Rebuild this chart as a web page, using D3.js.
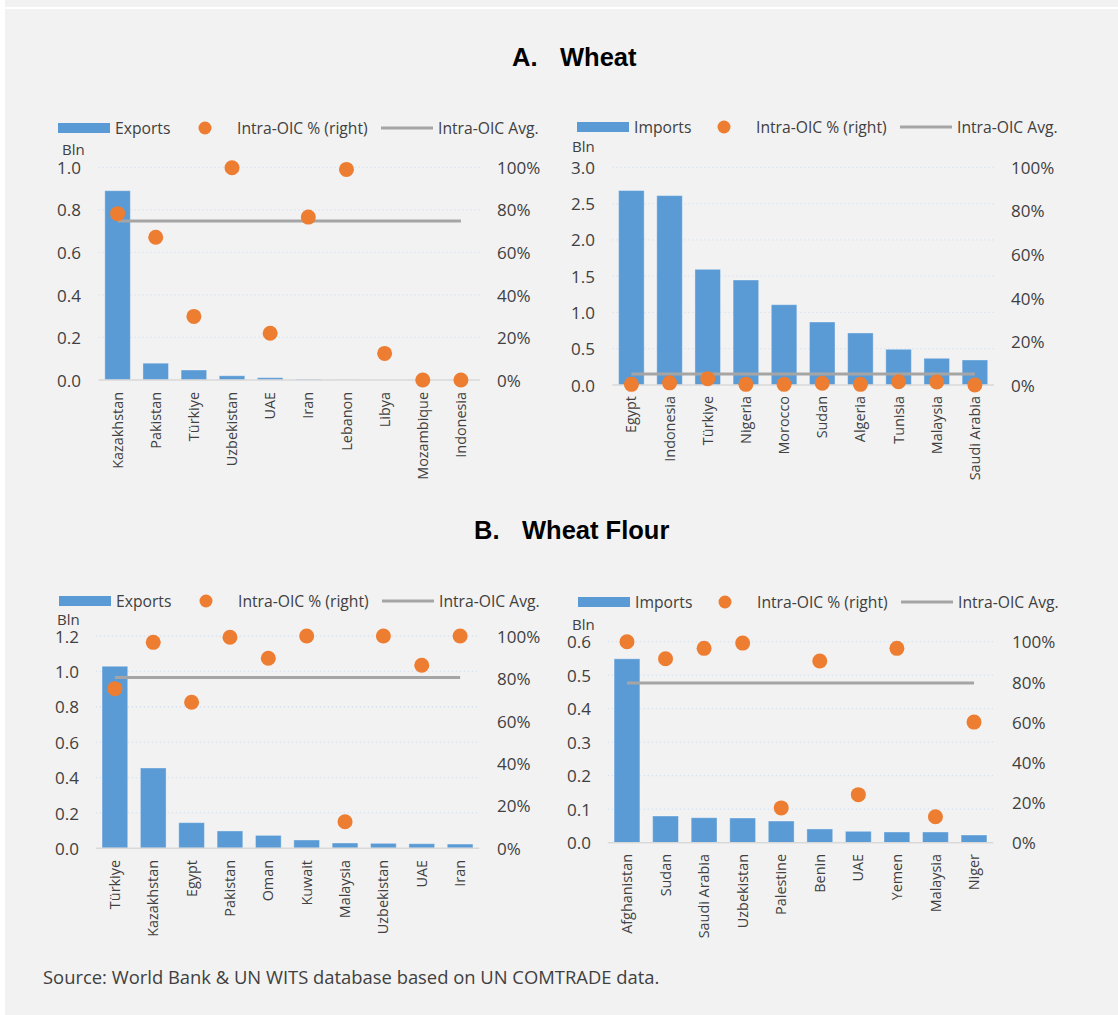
<!DOCTYPE html>
<html>
<head>
<meta charset="utf-8">
<script src="https://cdn.jsdelivr.net/npm/d3@7"></script>
<style>
  body { margin: 0; background: #fff; }
  svg text { font-family: "Open Sans", "Noto Sans", sans-serif; fill: #404040; }
</style>
</head>
<body>
<div id="chart"></div>
<script>
// A. Wheat - exports
var wheatExpCountries = ["Kazakhstan", "Pakistan", "Türkiye", "Uzbekistan", "UAE", "Iran", "Lebanon", "Libya", "Mozambique", "Indonesia"];
var wheatExpValues = [0.89, 0.079, 0.047, 0.02, 0.011, 0.004, 0.001, 0, 0, 0];
var wheatExpShare = [0.782, 0.671, 0.299, 0.998, 0.22, 0.766, 0.99, 0.125, 0, 0];
var wheatExpAvg = 0.748;
var wheatExpTicks = [0, 0.2, 0.4, 0.6, 0.8, 1.0];

// A. Wheat - imports
var wheatImpCountries = ["Egypt", "Indonesia", "Türkiye", "Nigeria", "Morocco", "Sudan", "Algeria", "Tunisia", "Malaysia", "Saudi Arabia"];
var wheatImpValues = [2.68, 2.61, 1.594, 1.447, 1.107, 0.868, 0.717, 0.492, 0.368, 0.345];
var wheatImpShare = [0.003, 0.01, 0.029, 0.003, 0.003, 0.008, 0.003, 0.015, 0.014, 0];
var wheatImpAvg = 0.0505;
var wheatImpTicks = [0, 0.5, 1.0, 1.5, 2.0, 2.5, 3.0];

// B. Wheat Flour - exports
var flourExpCountries = ["Türkiye", "Kazakhstan", "Egypt", "Pakistan", "Oman", "Kuwait", "Malaysia", "Uzbekistan", "UAE", "Iran"];
var flourExpValues = [1.029, 0.454, 0.145, 0.098, 0.073, 0.047, 0.03, 0.028, 0.026, 0.024];
var flourExpShare = [0.752, 0.97, 0.688, 0.994, 0.895, 1.0, 0.125, 1.0, 0.862, 1.0];
var flourExpAvg = 0.805;
var flourExpTicks = [0, 0.2, 0.4, 0.6, 0.8, 1.0, 1.2];

// B. Wheat Flour - imports
var flourImpCountries = ["Afghanistan", "Sudan", "Saudi Arabia", "Uzbekistan", "Palestine", "Benin", "UAE", "Yemen", "Malaysia", "Niger"];
var flourImpValues = [0.549, 0.0797, 0.0746, 0.0737, 0.0647, 0.041, 0.034, 0.032, 0.032, 0.023];
var flourImpShare = [1.0, 0.915, 0.967, 0.993, 0.173, 0.904, 0.239, 0.967, 0.129, 0.60];
var flourImpAvg = 0.795;
var flourImpTicks = [0, 0.1, 0.2, 0.3, 0.4, 0.5, 0.6];

var shareTicks = [0, 0.2, 0.4, 0.6, 0.8, 1.0];

var W = 1118, H = 1015;
var blue = "#5b9bd5", orange = "#ed7d31", grey = "#a5a5a5";

var svg = d3.select("#chart").append("svg")
    .attr("width", W)
    .attr("height", H);

// background panel
svg.append("rect").attr("x", 5).attr("y", 0).attr("width", W - 5).attr("height", 7).attr("fill", "#f2f2f2");
svg.append("rect").attr("x", 5).attr("y", 9).attr("width", W - 5).attr("height", H - 9).attr("fill", "#f2f2f2");

// section titles
function title(letter, name, lx, nx, y) {
    svg.append("text").attr("x", lx).attr("y", y)
        .style("font-family", "'Liberation Sans', Arial, sans-serif")
        .style("font-weight", "bold").style("font-size", "25.5px").style("fill", "#000")
        .text(letter);
    svg.append("text").attr("x", nx).attr("y", y)
        .style("font-family", "'Liberation Sans', Arial, sans-serif")
        .style("font-weight", "bold").style("font-size", "25.5px").style("fill", "#000")
        .text(name);
}
title("A.", "Wheat", 512, 560, 66);
title("B.", "Wheat Flour", 474, 522, 539);

function panel(o) {
    var g = svg.append("g");

    var x = d3.scaleBand()
        .domain(o.countries)
        .range([o.x0, o.x1])
        .paddingInner(0.33)
        .paddingOuter(0.165);

    var y = d3.scaleLinear()
        .domain([0, o.ticks[o.ticks.length - 1]])
        .range([o.yZero, o.yTop]);

    var y2 = d3.scaleLinear()
        .domain([0, 1])
        .range([o.yZero, o.yTop]);

    // dotted gridlines
    g.selectAll(".grid")
        .data(o.ticks.slice(1))
        .enter().append("line")
        .attr("x1", o.x0).attr("x2", o.x1)
        .attr("y1", function (d) { return y(d) }).attr("y2", function (d) { return y(d) })
        .attr("stroke", "#d6e2f0")
        .attr("stroke-width", 1.3)
        .attr("stroke-dasharray", "1.3,2.7");

    // left axis
    var yAxis = d3.axisLeft(y).tickValues(o.ticks).tickFormat(d3.format(".1f")).tickSize(0);
    var ga = g.append("g")
        .attr("transform", "translate(" + o.leftLab + ",0)")
        .call(yAxis);
    ga.select(".domain").remove();
    ga.selectAll("text").attr("x", 0).attr("dy", "0.36em")
        .style("font-size", "17px").style("fill", "#404040");

    // right axis
    var yAxisR = d3.axisRight(y2).tickValues(shareTicks).tickFormat(d3.format(".0%")).tickSize(0);
    var gr = g.append("g")
        .attr("transform", "translate(" + o.rightLab + ",0)")
        .call(yAxisR);
    gr.select(".domain").remove();
    gr.selectAll("text").attr("x", 0).attr("dy", "0.36em")
        .style("font-size", "17px").style("fill", "#404040");

    g.append("text")
        .attr("x", o.blnX).attr("y", o.blnY)
        .style("font-size", "15px")
        .text("Bln");

    // bars
    g.selectAll(".bar")
        .data(o.values)
        .enter().append("rect")
        .attr("x", function (d, i) { return x(o.countries[i]) })
        .attr("width", x.bandwidth())
        .attr("y", function (d) { return y(d) })
        .attr("height", function (d) { return o.yZero - y(d) })
        .attr("fill", blue)
        .attr("stroke", "rgba(255,255,255,0.35)")
        .attr("stroke-width", 1);

    // zero line
    g.append("line")
        .attr("x1", o.x0).attr("x2", o.x1)
        .attr("y1", o.yZero).attr("y2", o.yZero)
        .attr("stroke", "#d9d9d9")
        .attr("stroke-width", 1.5);

    // average line
    var first = o.countries[0], last = o.countries[o.countries.length - 1];
    g.append("line")
        .attr("x1", x(first) + x.bandwidth() / 2)
        .attr("x2", x(last) + x.bandwidth() / 2)
        .attr("y1", y2(o.avg)).attr("y2", y2(o.avg))
        .attr("stroke", grey)
        .attr("stroke-width", 3);

    // share dots
    g.selectAll(".dot")
        .data(o.share)
        .enter().append("circle")
        .attr("cx", function (d, i) { return x(o.countries[i]) + x.bandwidth() / 2 })
        .attr("cy", function (d) { return y2(d) })
        .attr("r", 7.5)
        .attr("fill", orange);

    // category labels
    g.selectAll(".lab")
        .data(o.countries)
        .enter().append("text")
        .attr("transform", function (d) {
            return "translate(" + (x(d) + x.bandwidth() / 2) + "," + o.labTop + ") rotate(-90)";
        })
        .attr("text-anchor", "end")
        .attr("dy", "0.35em")
        .style("font-size", "14.4px")
        .text(function (d) { return d });

    // legend
    var l = g.append("g").attr("transform", "translate(" + o.legX + "," + o.legY + ")");
    l.append("rect").attr("x", 0).attr("y", -5).attr("width", 52).attr("height", 10).attr("fill", blue);
    l.append("text").attr("x", 57).attr("dy", "0.35em").style("font-size", "15.7px").text(o.name);
    l.append("circle").attr("cx", 147).attr("cy", 0).attr("r", 6.5).attr("fill", orange);
    l.append("text").attr("x", 179).attr("dy", "0.35em").style("font-size", "15.7px").text("Intra-OIC % (right)");
    l.append("line").attr("x1", 323).attr("x2", 375).attr("stroke", grey).attr("stroke-width", 3);
    l.append("text").attr("x", 380).attr("dy", "0.35em").style("font-size", "15.7px").text("Intra-OIC Avg.");
}

panel({
    name: "Exports", countries: wheatExpCountries, values: wheatExpValues, share: wheatExpShare,
    avg: wheatExpAvg, ticks: wheatExpTicks,
    x0: 98.5, x1: 480, yTop: 167.3, yZero: 380, leftLab: 81, rightLab: 497,
    blnX: 62, blnY: 155, labTop: 392, legX: 58, legY: 128
});
panel({
    name: "Imports", countries: wheatImpCountries, values: wheatImpValues, share: wheatImpShare,
    avg: wheatImpAvg, ticks: wheatImpTicks,
    x0: 612.3, x1: 994, yTop: 167.3, yZero: 385, leftLab: 595, rightLab: 1011,
    blnX: 572, blnY: 152, labTop: 396, legX: 577, legY: 127
});
panel({
    name: "Exports", countries: flourExpCountries, values: flourExpValues, share: flourExpShare,
    avg: flourExpAvg, ticks: flourExpTicks,
    x0: 95.7, x1: 479.3, yTop: 636, yZero: 848.3, leftLab: 79, rightLab: 497,
    blnX: 57, blnY: 625, labTop: 860, legX: 59, legY: 601
});
panel({
    name: "Imports", countries: flourImpCountries, values: flourImpValues, share: flourImpShare,
    avg: flourImpAvg, ticks: flourImpTicks,
    x0: 607.7, x1: 993.3, yTop: 641.7, yZero: 842.7, leftLab: 591, rightLab: 1012,
    blnX: 572, blnY: 630, labTop: 854, legX: 578, legY: 602
});

svg.append("text")
    .attr("x", 43).attr("y", 984)
    .style("font-size", "18.4px")
    .text("Source: World Bank & UN WITS database based on UN COMTRADE data.");
</script>
</body>
</html>
